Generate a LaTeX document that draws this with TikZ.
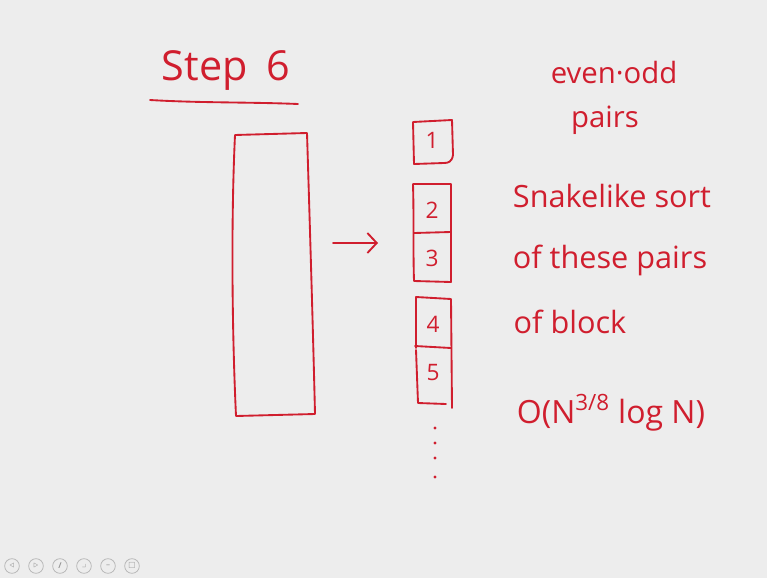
\documentclass[tikz,border=0pt]{standalone}
\usepackage{amssymb}
\usepackage{fontspec}
\setmainfont{Open Sans}
\usetikzlibrary{arrows.meta}
\definecolor{ink}{HTML}{D01E2E}
\definecolor{paper}{HTML}{EDEDED}
\definecolor{ui}{HTML}{B8B8B8}
\tikzset{
  pen/.style={draw=ink, line width=1.4pt, line cap=round, line join=round},
  hand/.style={text=ink, inner sep=0pt, anchor=base},
  cell/.style={hand, font=\fontsize{17}{17}\selectfont},
  uibtn/.style={draw=ui, line width=0.6pt, circle, minimum size=11pt, inner sep=0pt,
                text=ui!80!black, font=\fontsize{6}{6}\selectfont},
}
\begin{document}
\begin{tikzpicture}[x=0.75pt,y=-0.75pt]
  % canvas
  \fill[paper] (0,0) rectangle (767,578);
  \useasboundingbox (0,0) rectangle (767,578);

  % heading
  \node[hand, font=\fontsize{31}{31}\selectfont] (title) at (226,80) {Step\hspace{0.45em}6};
  \coordinate (ulA) at (150,100);
  \coordinate (ulB) at (298,104);
  \draw[pen] (ulA) .. controls (200,103) and (250,102) .. (ulB);

  % the large block
  \coordinate (bA) at (235,135);
  \coordinate (bB) at (307,133);
  \coordinate (bC) at (315,414);
  \coordinate (bD) at (236,416);
  \draw[pen] (bA) -- (bB) .. controls (310,230) and (313,330) .. (bC)
             (bC) -- (bD) .. controls (232,330) and (231,220) .. (bA);
  \node[inner sep=0pt] (big) at (272,275) {};

  % arrow
  \coordinate (arS) at (333,243);
  \coordinate (arE) at (378,243);
  \draw[pen, -{Straight Barb[length=7pt,width=15pt]}] (arS) -- (arE);

  % small blocks
  \draw[pen] (413,122) -- (452,120) -- (453,155) .. controls (452,162) and (448,163) .. (444,163) -- (414,164) -- cycle;
  \draw[pen] (413,184) -- (451,184) -- (451,282) -- (414,281) .. controls (413,250) and (414,220) .. (413,184);
  \draw[pen] (414,233) -- (451,232);
  \draw[pen] (416,297) -- (451,299) -- (452,408);
  \draw[pen] (416,297) -- (416,348) (416,350) -- (418,403) -- (446,404);
  \draw[pen] (415,346) -- (451,348);

  \node[cell] (c1) at (432,148) {1};
  \node[cell] (c2) at (432,218) {2};
  \node[cell] (c3) at (432,266) {3};
  \node[cell] (c4) at (433,332) {4};
  \node[cell] (c5) at (433,380) {5};

  % continuation dots
  \foreach \yy/\nm in {428/d1,443/d2,458/d3,477/d4}
    \fill[ink] (435,\yy) circle (1.2pt) coordinate (\nm);

  % notes on the right
  \node[hand, font=\fontsize{22}{22}\selectfont] (n1) at (614,83) {even·odd};
  \node[hand, font=\fontsize{22}{22}\selectfont] (n2) at (605,127) {pairs};
  \node[hand, font=\fontsize{23}{23}\selectfont] (n3) at (612,207) {Snakelike sort};
  \node[hand, font=\fontsize{23}{23}\selectfont] (n4) at (610,268) {of these pairs};
  \node[hand, font=\fontsize{23}{23}\selectfont] (n5) at (570,333) {of block};
  \node[hand, font=\fontsize{24}{24}\selectfont] (n6) at (611,423) {O(N\textsuperscript{3/8} log N)};

  % player controls
  \node[uibtn] (u1) at (12,566) {\(\triangleleft\)};
  \node[uibtn] (u2) at (36,566) {\(\triangleright\)};
  \node[uibtn] (u3) at (60,566) {\textbf{/}};
  \node[uibtn] (u4) at (84,566) {\(\lrcorner\)};
  \node[uibtn] (u5) at (108,566) {--};
  \node[uibtn] (u6) at (132,566) {\(\square\)};
\end{tikzpicture}
\end{document}
